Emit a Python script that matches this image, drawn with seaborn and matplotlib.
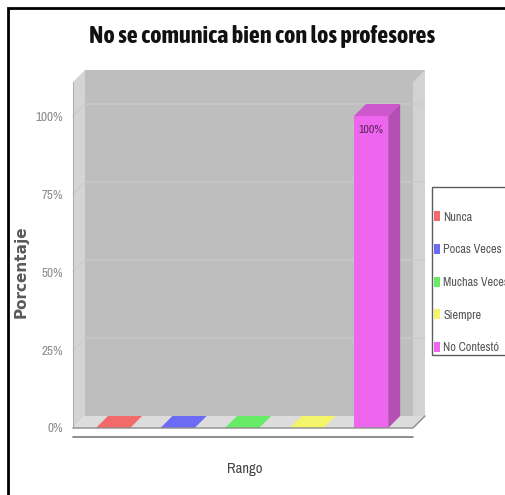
import matplotlib
matplotlib.use('Agg')
import matplotlib.pyplot as plt
import matplotlib.colors as mcolors
from matplotlib.patches import Polygon, Rectangle, Patch
from matplotlib import font_manager
import seaborn as sns

# datos del grafico
categorias = ['Nunca', 'Pocas Veces', 'Muchas Veces', 'Siempre', 'No Contestó']
porcentajes = [0, 0, 0, 0, 100]
colores = ['#f26a6a', '#6b6bf5', '#66ec66', '#f4f46a', '#ee66ee']
ticks_y = [0, 25, 50, 75, 100]
etiquetas_y = ['0%', '25%', '50%', '75%', '100%']
titulo = 'No se comunica bien con los profesores'

sns.set_style('white')

# buscar una fuente angosta (mejor si tiene negrita)
fuentes = font_manager.fontManager.ttflist
angostas = sorted({f.name for f in fuentes
                   if 'Narrow' in f.name or 'Condensed' in f.name})
con_negrita = sorted({f.name for f in fuentes if f.name in angostas
                      and (f.weight == 'bold' or (isinstance(f.weight, int) and f.weight >= 700))})
if angostas:
    fam = angostas[0]
    fam_titulo = con_negrita[0] if con_negrita else fam
    escala = 1.0
else:
    fam = fam_titulo = 'Liberation Sans'
    escala = 0.85

fig = plt.figure(figsize=(5.05, 4.95), dpi=100)
ax = fig.add_axes([73 / 505, 1 - 428 / 495, 340 / 505, 346 / 495])

# barras frontales
sns.barplot(x=categorias, y=porcentajes, hue=categorias, palette=colores,
            width=0.53, saturation=1, legend=False, ax=ax, zorder=3, linewidth=0)

xmin, xmax = -0.62, 4.65
ytop = 110.9
ax.set_xlim(xmin, xmax)
ax.set_ylim(0, ytop)

# profundidad 3d en unidades de datos (12 px)
dx = 12 / (340 / (xmax - xmin))
dy = 12 / (346 / ytop)

barras = [b for cont in ax.containers for b in cont]

# paredes y piso
ax.add_patch(Rectangle((xmin + dx, dy), xmax - xmin, ytop, color='#bebebe',
                       zorder=0, clip_on=False, lw=0))
ax.add_patch(Polygon([(xmin, 0), (xmin, ytop), (xmin + dx, ytop + dy), (xmin + dx, dy)],
                     closed=True, color='#d4d4d4', zorder=0.5, clip_on=False, lw=0))
ax.add_patch(Polygon([(xmax, 0), (xmax, ytop), (xmax + dx, ytop + dy), (xmax + dx, dy)],
                     closed=True, color='#d2d2d2', zorder=0.5, clip_on=False, lw=0))
ax.add_patch(Polygon([(xmin, 0), (xmax, 0), (xmax + dx, dy), (xmin + dx, dy)],
                     closed=True, color='#dcdcdc', zorder=0.6, clip_on=False, lw=0))

# lineas de la grilla
for t in ticks_y[1:]:
    ax.plot([xmin, xmin + dx, xmax + dx], [t, t + dy, t + dy], color='#cbcbcb',
            lw=0.8, zorder=0.7, clip_on=False)

# caras superiores y laterales
for barra in barras:
    x = barra.get_x()
    w = barra.get_width()
    h = barra.get_height()
    rgb = mcolors.to_rgb(barra.get_facecolor())
    arriba = tuple(v * 0.86 for v in rgb) if h > 0 else rgb
    lado = tuple(v * 0.76 for v in rgb)
    ax.add_patch(Polygon([(x, h), (x + w, h), (x + w + dx, h + dy), (x + dx, h + dy)],
                         closed=True, color=arriba, zorder=3.5, clip_on=False, lw=0))
    if h > 0:
        ax.add_patch(Polygon([(x + w, 0), (x + w, h), (x + w + dx, h + dy), (x + w + dx, dy)],
                             closed=True, color=lado, zorder=3.5, clip_on=False, lw=0))
        ax.text(x + w / 2, h - 4.5, f'{h:.0f}%', ha='center', va='center',
                fontsize=8.5 * escala, color='#5a1f5a', zorder=5, family=fam)

# bordes del piso y eje inferior
ax.plot([xmin, xmax, xmax + dx], [0, 0, dy], color='#8c8c8c', lw=1, zorder=4, clip_on=False)
ax.plot([xmin, xmax], [-2.9, -2.9], color='#7a7a7a', lw=1.2, zorder=4, clip_on=False)

# ejes
for lado_s in ['top', 'right', 'bottom']:
    ax.spines[lado_s].set_visible(False)
ax.spines['left'].set_color('#b0b0b0')
ax.spines['left'].set_linewidth(0.8)
ax.set_xticks([])
ax.set_yticks(ticks_y, etiquetas_y)
ax.tick_params(axis='y', length=5, width=0.8, color='#b0b0b0', colors='#8a8a8a',
               labelsize=9.5 * escala, pad=2)
for lab in ax.get_yticklabels():
    lab.set_fontfamily(fam)
ax.set_xlabel('')
ax.set_ylabel('')

# textos
fig.text(262 / 505, 1 - 36 / 495, titulo, ha='center', va='center', fontsize=17.5 * escala,
         fontweight='bold', color='#111111', family=fam_titulo)
fig.text(21 / 505, 1 - 272 / 495, 'Porcentaje', rotation=90, ha='center', va='center',
         fontsize=11, fontweight='bold', color='#5a5a5a', family='DejaVu Sans')
fig.text(245 / 505, 1 - 469 / 495, 'Rango', ha='center', va='center', fontsize=10.5 * escala,
         color='#444444', family=fam)

# leyenda
manijas = [Patch(facecolor=c, edgecolor='none') for c in colores]
ley = fig.legend(manijas, categorias, loc='upper left',
                 bbox_to_anchor=(432 / 505, 1 - 187 / 495), frameon=True,
                 fancybox=False, edgecolor='#333333',
                 handlelength=0.5, handleheight=0.9, handletextpad=0.25,
                 labelspacing=1.75, borderpad=0.15, borderaxespad=0,
                 title=' ', title_fontsize=1,
                 prop={'family': fam, 'size': 8.8 * escala})
for txt in ley.get_texts():
    txt.set_color('#555555')

# marco exterior
fig.patches.append(Rectangle((8 / 505, -0.1), 1.2, 1.1 - 8 / 495, transform=fig.transFigure,
                             fill=False, lw=2, edgecolor='black'))

fig.savefig('out.png', dpi=100)
